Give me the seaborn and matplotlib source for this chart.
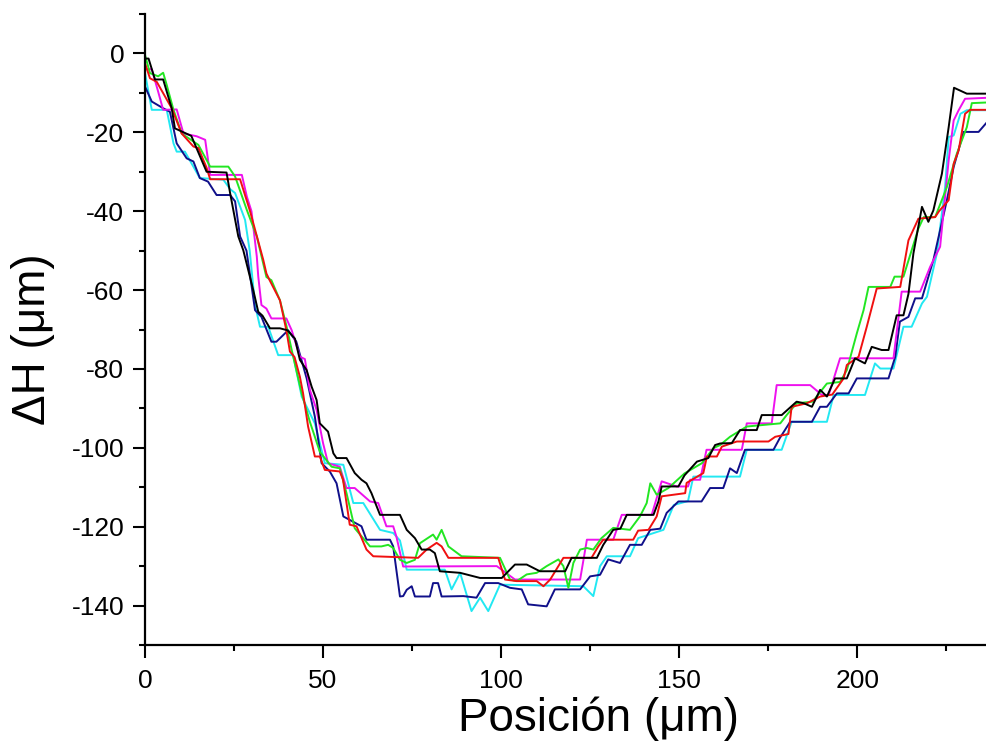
import numpy as np
import pandas as pd
import matplotlib
matplotlib.use('Agg')
import matplotlib.pyplot as plt
from matplotlib.ticker import MultipleLocator, FixedLocator
import seaborn as sns

#---------------------------------------------------------
f_out='out.png'
x_black=[0,1,2.8,5.1,7.5,8.4,13,17.3,22.9,23.9,26.2,27.6,30.4,31.8,33,35.1,37.9,40,42.1,43.5,45.4,46.8,48.2,49.1,51.4,52.9,53.8,56.6,58.9,60.8,62.2,63.6,66,71.6,73.5,75.8,77.7,80,81.4,82.8,88.5,94.1,100.2,103.9,107.2,110.9,118,119.8,126.9,128.7,131.5,133.5,135.3,142.8,144.2,145.1,149.8,151.5,155,158.2,160.1,161.5,164.8,167.1,171.8,173.2,178.8,183,185,187.3,189.6,191.5,193.8,197.1,199.4,202.2,204.1,206.9,208.8,211.1,213,214.4,215.8,218.2,220,221.4,223.8,225.7,227.2,230.8,240]
y_black=[-1.3,-1.3,-6.6,-6.6,-13.9,-19,-20.9,-30,-30.2,-35.4,-46.4,-49.9,-60,-65.5,-66.5,-69.7,-69.7,-70.2,-72.3,-77.7,-80.3,-84.5,-87.9,-93.8,-95.9,-101.4,-102.6,-102.6,-106.4,-108.1,-109,-111.5,-117,-117,-120.8,-122.9,-125.8,-125.8,-126.7,-131.3,-131.7,-133,-133,-129.6,-129.6,-131.3,-131.3,-127.9,-127.9,-124.6,-120.8,-120.5,-117,-117,-113.6,-109.8,-109.8,-107,-103.5,-102.6,-99.3,-98.9,-98.8,-95.5,-95.5,-91.7,-91.7,-88.3,-88.7,-89.6,-85.3,-87,-82.4,-82.4,-77.3,-78.6,-74.4,-75.2,-75.2,-66.4,-66.4,-61,-50.7,-38.9,-42.7,-39.8,-30.5,-18.7,-8.7,-10.2,-10.2]

x_red=[0,1.4,3.3,7.5,10.3,13.6,15,17.3,18.3,26.7,29.5,33.2,34.1,35,37.9,39.7,40.7,42,43.5,44.4,45.8,47.7,49.1,50.5,54.7,55.6,57.5,59.4,62.2,64.1,76.7,79.1,81.9,83.3,85.2,99.2,101.1,104.4,110,111.9,113.8,117.5,125.4,127.3,128.7,137.1,138.5,141.4,143.7,145.1,151.7,152.1,156.8,157.8,160.6,162,166.2,175.1,177,180.7,181.6,185.9,189.6,193,196.2,197.1,200.4,202.7,205.5,212.1,214.4,217.2,221.9,223,225.7,227.1,228.5,230.3,231.7,240]
y_red=[-2.5,-6.3,-7.2,-13.9,-20.3,-23.6,-24,-29,-31.9,-31.9,-40,-52.3,-55.8,-57.5,-62.6,-70.2,-75.6,-77,-82,-86.2,-94.6,-102.2,-102.2,-105.6,-106,-108,-119.5,-119.9,-125.8,-127.5,-127.9,-125.8,-124.1,-125,-127.9,-127.9,-133.4,-133.8,-133.8,-135.1,-133.4,-127.9,-127.9,-125,-123.3,-123.3,-121,-120.8,-117.4,-112.3,-111.5,-108.9,-106.4,-102.2,-102.2,-99.7,-98.4,-98.4,-97.2,-96.5,-89.6,-88.7,-87,-86.5,-82.4,-79,-76.9,-69.3,-59.6,-59.2,-47.4,-41.9,-41.5,-40,-37.2,-28,-24.6,-15.3,-14.3,-14.3]

x_green=[0,1.4,3.7,5.1,6.1,8,10.3,15,18.3,23.4,25.3,28.6,31.4,34.1,35.5,37.9,39.7,41.2,44,46.3,49.1,52.4,54.7,56.6,58.9,63.2,66.4,68.3,69.7,71.6,73.5,75.8,77.2,80.9,81.9,83.3,85.2,88.9,99.7,102.5,104.4,107.2,110,112.8,116.1,117.5,118.9,120.3,122.2,124.1,125.9,128.2,131.5,136.2,139,140.9,141.9,143.7,147,151.5,156.4,159.6,161.5,164.3,169,178.4,180.2,183,187.5,191.5,195.2,197.1,199.9,201.8,203.2,209.3,210.5,213,217.2,218.7,221.9,225.2,228,230.8,232.2,240]
y_green=[-0.4,-5,-5.8,-4.9,-8,-14.3,-20.3,-23.2,-28.7,-28.7,-31.2,-39.7,-46.4,-56.7,-57.5,-62.6,-69,-75.2,-86.2,-93.4,-101,-104.8,-105.2,-111.5,-120.4,-125,-125,-124.6,-125.4,-128.4,-129.2,-128.4,-124.2,-122,-123.3,-120.8,-125,-127.5,-127.9,-133.4,-133.8,-132.1,-131.7,-130,-128.3,-130,-135.5,-129.2,-125.8,-125.4,-125.8,-122.9,-120.3,-120.8,-117.4,-114,-109,-111.9,-110.2,-106.5,-103.9,-100.1,-99.3,-97.2,-94.6,-93.8,-91.7,-88.7,-88.3,-83.7,-83.3,-80.3,-71,-65.1,-59.2,-59.2,-56.6,-56.6,-44.4,-41.5,-41.5,-33.9,-25.4,-18.7,-12.6,-12.3]

x_mag=[0,1.9,3.7,5.1,8.9,10.8,14.5,16.9,18.3,27.2,28.6,29.9,31.4,31.8,32.7,34.1,35.5,39.7,41.2,43.5,44.9,46.3,48.2,50,51.4,54.7,56.6,58.9,63.2,65.5,67.8,69.7,70.6,72.5,98.8,103.9,122.2,124.1,131.5,133.9,142.3,145.1,149.3,152.5,153.1,155.9,157.7,167.6,169,176,177.4,186.8,190.1,192,195.2,210.2,212.5,217.7,220.5,223.3,225.7,227.1,228.5,230.3,240]
y_mag=[-4,-4,-9.7,-14.3,-14.2,-20.3,-21,-21.9,-30.8,-30.8,-36.3,-40,-51.5,-56.5,-63.8,-64.7,-67.2,-67.2,-70.2,-76.9,-77.5,-85.3,-90.4,-98.8,-103.9,-104.8,-110.2,-110.2,-113.6,-114,-119.9,-119.9,-122.5,-130.1,-130,-133.4,-133.4,-123.3,-123.3,-117,-117,-108.5,-109.8,-109.8,-108.1,-108.1,-100.5,-100.5,-93.8,-93.8,-84.1,-84.1,-86.6,-86.6,-77.3,-77.3,-60.4,-60.4,-54.1,-49,-27.1,-17,-14.4,-11.5,-11.1]

x_cyan=[0,1.9,6.1,8,8.9,11.2,15.4,22,23.9,25.3,28.1,29.4,30.9,32.3,34.6,37.4,41.6,44,47.7,50.5,55.7,58.5,61.3,66,69.7,71.6,73.5,84.2,86.1,88.5,91.7,94.1,96.4,99.7,123.1,125.9,127.8,129.7,136.2,138.5,145.6,148.5,152.5,154,167.1,169,178.8,181.6,191.5,193.4,202.2,205,206.5,210.2,213,215.3,218.2,219.6,222.4,224.7,225.7,227.1,229,230.8,240]
y_cyan=[-5,-14.3,-14.3,-22.8,-24.9,-24.9,-31.6,-32,-34.4,-35.4,-42.2,-50,-63.8,-69.3,-69.3,-76.5,-76.5,-87,-93.8,-103.9,-104.3,-114,-114,-120.8,-121.6,-123.5,-130.9,-130.9,-135.9,-131.7,-141.4,-138,-141.4,-134.7,-135.1,-137.6,-130,-127.5,-127.5,-122.9,-120.8,-114.5,-113.5,-107.3,-107.3,-100.5,-100.5,-93.4,-93.4,-86.6,-86.6,-78.6,-79.9,-79.9,-69.3,-69.3,-63.4,-61.7,-50.7,-33.9,-21.2,-20.8,-15.3,-14.4,-14.4]

x_navy=[0,1.9,5.1,7,8.9,11.7,13.6,15.4,17.7,20.1,23.9,25.3,26.7,28.5,30.9,32.7,35.5,36.9,40.2,42.5,45.4,47.7,49.6,51.9,53.8,55.7,60.8,62.2,68.8,69.7,71.6,72.5,73.5,74.9,75.8,80,80.9,82.3,83.3,89.4,93.1,95.5,99.2,102.5,105.8,107.6,112.8,115.1,122.2,125,127.8,130.1,133.4,136.2,139.5,141.9,144.7,146.5,149.8,156.3,158.7,162.4,164.3,166.2,168.5,176.5,178.3,181.2,187.3,189.6,191.5,194.3,197.6,199.9,208.8,210.7,212,214.4,216.3,218.2,221.4,225.2,227.1,229.9,234.1,236.5,240]
y_navy=[-8.4,-12.2,-13.9,-14.8,-22.8,-26.6,-27.4,-31.6,-32.5,-35.9,-35.9,-37.5,-46.4,-50,-65.1,-66.8,-73.1,-73.1,-70.2,-73.1,-82.4,-92.1,-103.9,-106,-109,-117.4,-119.9,-123.3,-123.3,-125,-137.7,-137.6,-136,-135.1,-137.7,-137.7,-134.3,-134.3,-137.7,-137.6,-138,-134.3,-134.3,-135.5,-135.9,-139.7,-140.2,-135.9,-135.9,-132.6,-132.2,-128.3,-129.2,-124.6,-124.6,-120.8,-120.5,-116.5,-113.6,-113.6,-110.2,-110.2,-105.2,-106.4,-100.5,-100.5,-97.5,-93.4,-93.4,-89.6,-89.6,-86.2,-86.2,-82.4,-82.4,-76.9,-68,-66.8,-62.1,-62.1,-52.4,-37.2,-28.8,-19.9,-19.9,-17.4,-16]

l_run=['cyan', 'navy', 'magenta', 'green', 'red', 'black']
cmap={'black':'#000000', 'red':'#f01010', 'green':'#22e622', 'magenta':'#ee11ee', 'cyan':'#22e8f2', 'navy':'#10108a'}
l_xtick=[0, 50, 100, 150, 200]
l_xminor=[25, 75, 125, 175, 225]

#--------------------------------------------------------
d_xy={'black':(x_black, y_black), 'red':(x_red, y_red), 'green':(x_green, y_green),
	'magenta':(x_mag, y_mag), 'cyan':(x_cyan, y_cyan), 'navy':(x_navy, y_navy)}
l_df=[]
for run in l_run:
	xi, yi=d_xy[run]
	l_df.append(pd.DataFrame({'pos':xi, 'dh':yi, 'run':run}))
df=pd.concat(l_df, ignore_index=True)

#--------------------------------------------------------
sns.set_style('ticks')
plt.rcParams['font.family']=['Liberation Sans', 'DejaVu Sans']
plt.rcParams['axes.unicode_minus']=False
plt.rcParams['text.color']='black'
plt.rcParams['axes.labelcolor']='black'

fig=plt.figure(figsize=(9.87, 7.53), dpi=100)
ax=fig.add_axes([145/987, 1-645/753, 908/987, 631/753])
sns.lineplot(data=df, x='pos', y='dh', hue='run', hue_order=l_run, palette=cmap,
	sort=False, estimator=None, legend=False, linewidth=1.4, ax=ax)

ax.set_xlim(0, 255)
ax.set_ylim(-150, 10)
ax.xaxis.set_major_locator(FixedLocator(l_xtick))
ax.xaxis.set_minor_locator(FixedLocator(l_xminor))
ax.yaxis.set_major_locator(MultipleLocator(20))
ax.yaxis.set_minor_locator(MultipleLocator(10))
sns.despine(ax=ax)
for s in ['left', 'bottom']:
	ax.spines[s].set_linewidth(1.6)
	ax.spines[s].set_color('black')
ax.tick_params(which='major', direction='out', length=9, width=1.5, labelsize=19, pad=6, colors='black')
ax.tick_params(axis='x', which='major', pad=8)
ax.tick_params(which='minor', direction='out', length=4.5, width=1.5, colors='black')
ax.set_xlabel('Posición (μm)', fontsize=33, labelpad=3)
ax.set_ylabel('ΔH (μm)', fontsize=33)
ax.yaxis.set_label_coords(-0.099, 0.485)

plt.savefig(f_out, dpi=100)
plt.close()
